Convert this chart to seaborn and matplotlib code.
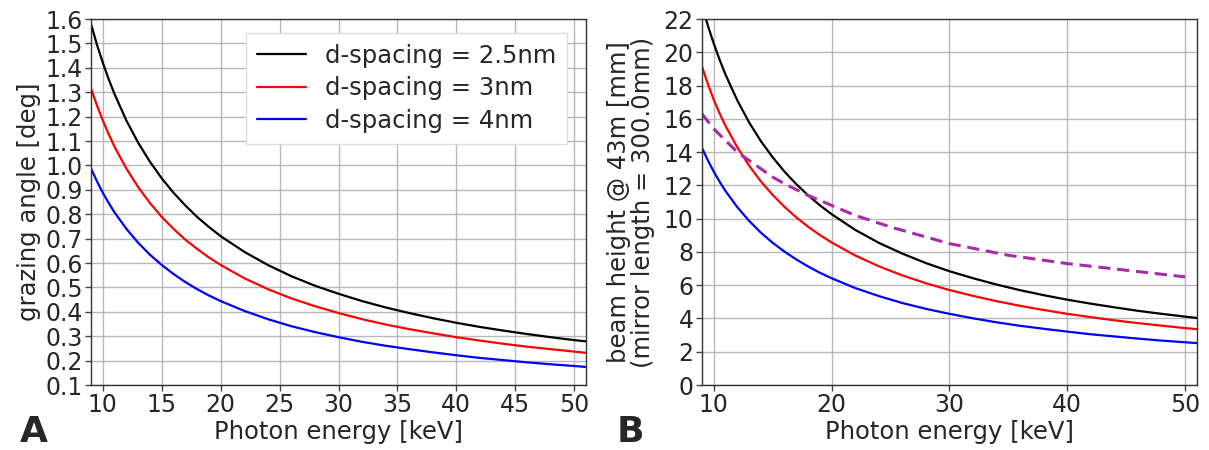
import matplotlib
matplotlib.use("Agg")
import matplotlib.pyplot as plt
import seaborn as sns

# Photon energies [keV] at which the curves are sampled
energy = [9, 9.5, 10, 10.5, 11, 12, 13, 14, 15, 16, 17, 18, 19, 20, 22, 24,
          26, 28, 30, 32, 34, 36, 38, 40, 42, 44, 46, 48, 50, 51]

# Grazing angle [deg] for each multilayer d-spacing
angle_d25 = [1.579, 1.495, 1.421, 1.353, 1.292, 1.184, 1.093, 1.015, 0.947, 0.888,
             0.836, 0.789, 0.748, 0.710, 0.646, 0.592, 0.546, 0.507, 0.474, 0.444,
             0.418, 0.395, 0.374, 0.355, 0.338, 0.323, 0.309, 0.296, 0.284, 0.279]
angle_d3 = [1.315, 1.246, 1.184, 1.128, 1.076, 0.987, 0.911, 0.846, 0.789, 0.740,
            0.696, 0.658, 0.623, 0.592, 0.538, 0.493, 0.455, 0.423, 0.395, 0.370,
            0.348, 0.329, 0.312, 0.296, 0.282, 0.269, 0.257, 0.247, 0.237, 0.232]
angle_d4 = [0.987, 0.935, 0.888, 0.846, 0.807, 0.740, 0.683, 0.634, 0.592, 0.555,
            0.522, 0.493, 0.467, 0.444, 0.404, 0.370, 0.341, 0.317, 0.296, 0.277,
            0.261, 0.247, 0.234, 0.222, 0.211, 0.202, 0.193, 0.185, 0.178, 0.174]

# Beam height [mm] at 43 m for a 300 mm mirror
height_d25 = [22.81, 21.61, 20.53, 19.55, 18.66, 17.11, 15.79, 14.66, 13.69, 12.83,
              12.08, 11.41, 10.81, 10.27, 9.33, 8.55, 7.90, 7.33, 6.84, 6.42,
              6.04, 5.70, 5.40, 5.13, 4.89, 4.67, 4.46, 4.28, 4.11, 4.03]
height_d3 = [19.15, 18.10, 17.15, 16.33, 15.58, 14.29, 13.19, 12.24, 11.43, 10.71,
             10.08, 9.52, 9.02, 8.57, 7.79, 7.14, 6.59, 6.12, 5.71, 5.36,
             5.04, 4.76, 4.51, 4.28, 4.08, 3.89, 3.72, 3.57, 3.42, 3.36]
height_d4 = [14.26, 13.51, 12.83, 12.22, 11.66, 10.69, 9.87, 9.16, 8.55, 8.02,
             7.55, 7.13, 6.75, 6.42, 5.83, 5.35, 4.93, 4.58, 4.28, 4.01,
             3.77, 3.56, 3.38, 3.21, 3.05, 2.92, 2.79, 2.67, 2.57, 2.52]

# Reference beam height (dashed curve)
ref_energy = [9, 10, 11, 12, 13, 14, 15, 16, 18, 20, 22, 25, 30, 35, 40, 45, 50]
ref_height = [16.3, 15.4, 14.7, 14.0, 13.5, 13.0, 12.5, 12.1, 11.4, 10.8, 10.2,
              9.5, 8.5, 7.8, 7.3, 6.9, 6.5]

labels = ["d-spacing = 2.5nm", "d-spacing = 3nm", "d-spacing = 4nm"]
colors = ["black", "red", "blue"]

sns.set_style("ticks")
plt.rcParams["font.family"] = ["DejaVu Sans"]
plt.rcParams["font.size"] = 17

TICK_FS = 17
LABEL_FS = 17.5

fig = plt.figure(figsize=(12.09, 4.5), dpi=100)
ax1 = fig.add_axes([0.0753, 0.1444, 0.4094, 0.8133])
ax2 = fig.add_axes([0.5806, 0.1444, 0.4094, 0.8133])

for ys, lab, col in zip([angle_d25, angle_d3, angle_d4], labels, colors):
    sns.lineplot(x=energy, y=ys, color=col, label=lab, lw=1.6, ax=ax1)
for ys, col in zip([height_d25, height_d3, height_d4], colors):
    sns.lineplot(x=energy, y=ys, color=col, lw=1.6, ax=ax2)
sns.lineplot(x=ref_energy, y=ref_height, color="#a82aaa", lw=2.2, ax=ax2,
             linestyle=(0, (4, 2.2)))

ax1.set_xlim(9, 51)
ax1.set_ylim(0.1, 1.6)
ax1.set_xticks(range(10, 51, 5))
ax1.set_yticks([round(0.1 * i, 1) for i in range(1, 17)])
ax1.set_xlabel("Photon energy [keV]", fontsize=LABEL_FS, labelpad=2)
ax1.set_ylabel("grazing angle [deg]", fontsize=LABEL_FS, labelpad=3)
leg = ax1.legend(loc="upper right", fontsize=LABEL_FS, frameon=True, fancybox=False,
                 handlelength=2.0, borderpad=0.45, labelspacing=0.35,
                 bbox_to_anchor=(0.987, 0.996))
leg.get_frame().set_edgecolor("#dddddd")
leg.get_frame().set_alpha(1.0)

ax2.set_xlim(9, 51)
ax2.set_ylim(0, 22)
ax2.set_xticks(range(10, 51, 10))
ax2.set_yticks(range(0, 23, 2))
ax2.set_xlabel("Photon energy [keV]", fontsize=LABEL_FS, labelpad=2)
ax2.set_ylabel("beam height @ 43m [mm]\n(mirror length = 300.0mm)",
               fontsize=LABEL_FS, labelpad=6, linespacing=1.0)

for ax in (ax1, ax2):
    ax.grid(True, color="#b8b8b8", lw=1.0)
    ax.set_axisbelow(True)
    ax.tick_params(labelsize=TICK_FS, length=4, width=1, color="#444444", pad=2)
    for sp in ax.spines.values():
        sp.set_visible(True)
        sp.set_color("#333333")
        sp.set_linewidth(1.0)

fig.text(0.016, 0.018, "A", fontsize=26, fontweight="bold")
fig.text(0.510, 0.018, "B", fontsize=26, fontweight="bold")

fig.savefig("out.png", dpi=100)
